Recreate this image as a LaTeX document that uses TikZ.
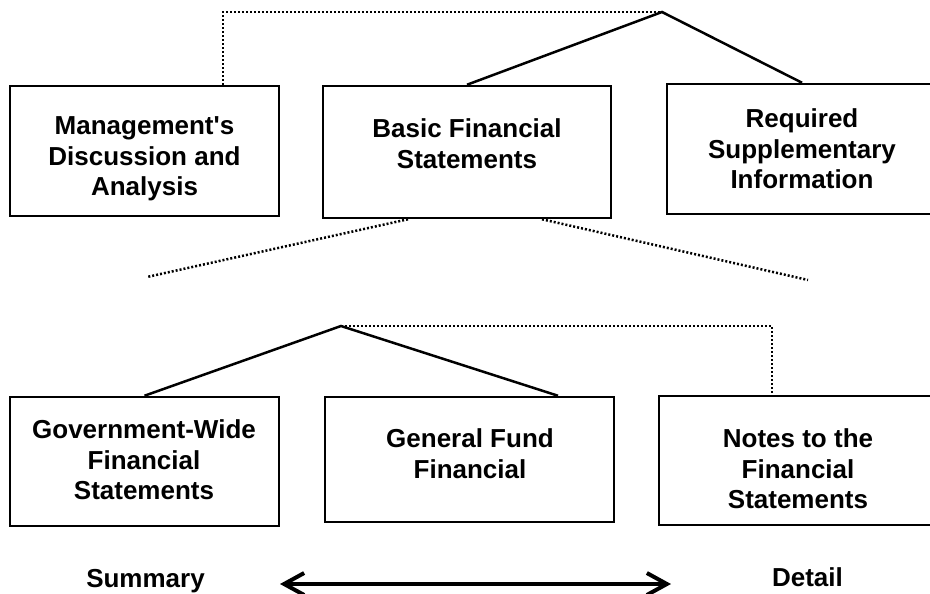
\documentclass[tikz,border=0pt]{standalone}
\usepackage{fontspec}
\setmainfont{Liberation Sans}
\usetikzlibrary{arrows.meta}

\begin{document}
\begin{tikzpicture}
  [x=1pt,y=-1pt,
  every node/.style={font=\fontsize{26}{30.7}\selectfont\bfseries,align=center},
  bx/.style={draw,line width=2.5pt,inner sep=0pt},
  ln/.style={line width=2.5pt},
  dt/.style={line width=2.5pt,dash pattern=on 2pt off 2pt},
  ar/.style={line width=4pt,<->,>={Straight Barb[length=20pt,width=22pt]}}]
  \useasboundingbox (0,0) rectangle (930,594);
  \clip (0,0) rectangle (930,594);

  \node[bx,minimum width=269pt,minimum height=130pt] (MDA) at (144.5,151) {};
  \node[bx,minimum width=288pt,minimum height=132pt] (BFS) at (467,152) {};
  \node[bx,minimum width=270pt,minimum height=130pt] (RSI) at (802,149) {};
  \node[bx,minimum width=269pt,minimum height=129pt] (GW) at (144.5,461.5) {};
  \node[bx,minimum width=289pt,minimum height=125pt] (GF) at (469.5,459.5) {};
  \node[bx,minimum width=276pt,minimum height=129pt] (NFS) at (797,460.5) {};

  \node (MDAt) at (144.5,159) {Management\textquotesingle s\\Discussion and\\Analysis};
  \node (BFSt) at (467,143.5) {Basic Financial\\Statements};
  \node (RSIt) at (802,149) {Required\\Supplementary\\Information};
  \node (GWt) at (144,460) {Government-Wide\\Financial\\Statements};
  \node (GFt) at (470,453.5) {General Fund\\Financial};
  \node (NFSt) at (798,469) {Notes to the\\Financial\\Statements};
  \node[anchor=base] (sum) at (145.5,587) {Summary};
  \node[anchor=base] (det) at (807.5,586) {Detail};

  \coordinate (top) at (662,12);
  \coordinate (mid) at (341,326);
  \coordinate (lend) at (147,277);
  \coordinate (rend) at (808,280);
  \coordinate (AL) at (280,584);
  \coordinate (AR) at (671,584);

  \draw[ln] (BFS.north) -- (top) -- (RSI.north);
  \draw[dt] ([xshift=78.5pt]MDA.north) |- (top);
  \draw[dt] ([xshift=-59pt]BFS.south) -- (lend);
  \draw[dt] ([xshift=75pt]BFS.south) -- (rend);
  \draw[ln] (GW.north) -- (mid) -- ([xshift=88.5pt]GF.north);
  \draw[dt] (mid) -| ([xshift=-25pt]NFS.north);
  \draw[ar] (AL) -- (AR);
\end{tikzpicture}
\end{document}
